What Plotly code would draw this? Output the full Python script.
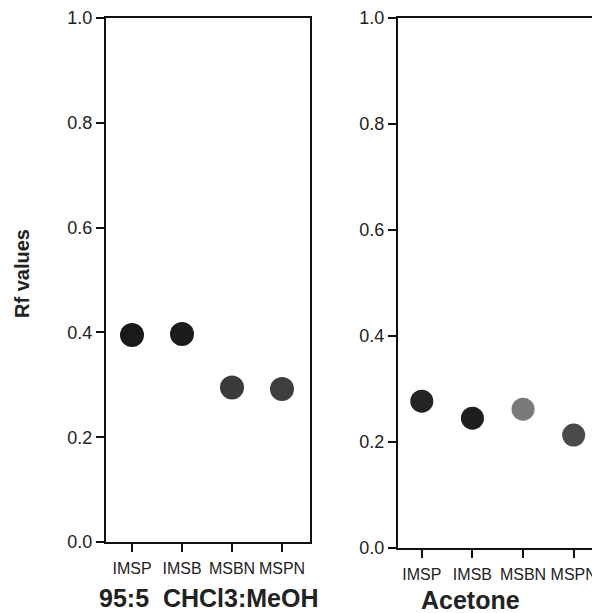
import plotly.graph_objects as go

compounds = ["IMSP", "IMSB", "MSBN", "MSPN"]
rf_chcl3_meoh = [0.395, 0.397, 0.295, 0.292]
rf_acetone = [0.277, 0.245, 0.262, 0.213]
y_ticks = [0.0, 0.2, 0.4, 0.6, 0.8, 1.0]
y_ticktext = ["0.0", "0.2", "0.4", "0.6", "0.8", "1.0"]

colors_left = ["#1a1a1a", "#1c1c1c", "#3a3a3a", "#3e3e3e"]
colors_right = ["#242424", "#1e1e1e", "#7a7a7a", "#4a4a4a"]

# the page body adds an 8px margin, so the figure is sized to fit the window
OX, OY = 8, 8
W, H = 592, 605

fig = go.Figure()

fig.add_trace(go.Scatter(
    x=compounds, y=rf_chcl3_meoh, mode="markers",
    marker=dict(size=24, color=colors_left, line=dict(width=0)),
    xaxis="x", yaxis="y", showlegend=False))
fig.add_trace(go.Scatter(
    x=compounds, y=rf_acetone, mode="markers",
    marker=dict(size=23, color=colors_right, line=dict(width=0)),
    xaxis="x2", yaxis="y2", showlegend=False))

def fx(px):
    return (px - OX) / W

def fy(py):
    return (H - (py - OY)) / H

def px_x(a, b):
    return [fx(a), fx(b)]

def px_y(top, bottom):
    return [fy(bottom), fy(top)]

FONT = "Liberation Sans, Arial, sans-serif"
tickfont_y = dict(family=FONT, size=18, color="#222")
tickfont_x = dict(family=FONT, size=16, color="#222")

common_x = dict(type="category", showgrid=False, zeroline=False, showline=True,
                linecolor="#111", linewidth=2, mirror=True, ticks="outside",
                ticklen=8, tickwidth=2, tickcolor="#111", tickfont=tickfont_x,
                tickangle=0, automargin=False, ticklabelstandoff=3,
                ticklabeloverflow="allow")
common_y = dict(range=[0, 1], showgrid=False, zeroline=False, showline=True,
                linecolor="#111", linewidth=2, mirror=True, ticks="outside",
                ticklen=8, tickwidth=2, tickcolor="#111", tickfont=tickfont_y,
                tickvals=y_ticks, ticktext=y_ticktext, automargin=False,
                ticklabeloverflow="allow")

fig.update_layout(
    width=W, height=H,
    margin=dict(l=0, r=0, t=0, b=0, autoexpand=False),
    paper_bgcolor="white", plot_bgcolor="white",
    xaxis=dict(common_x, domain=px_x(106, 310), range=[-0.52, 3.56], anchor="y"),
    yaxis=dict(common_y, domain=px_y(18, 542), anchor="x"),
    xaxis2=dict(common_x, domain=px_x(398, 599), range=[-0.47, 3.5], anchor="y2"),
    yaxis2=dict(common_y, domain=px_y(18, 548), anchor="x2"),
    annotations=[
        dict(text="<b>Rf values</b>", textangle=-90, xref="paper", yref="paper",
             x=fx(22), y=fy(274), xanchor="center", yanchor="middle", showarrow=False,
             font=dict(family=FONT, size=20, color="#222")),
        dict(text="<b>95:5  CHCl3:MeOH</b>", xref="paper", yref="paper",
             x=fx(209), y=fy(598), xanchor="center", yanchor="middle", showarrow=False,
             font=dict(family=FONT, size=25, color="#222")),
        dict(text="<b>Acetone</b>", xref="paper", yref="paper",
             x=fx(470), y=fy(600), xanchor="center", yanchor="middle", showarrow=False,
             font=dict(family=FONT, size=25, color="#222")),
    ],
)

fig.write_html("out.html")
